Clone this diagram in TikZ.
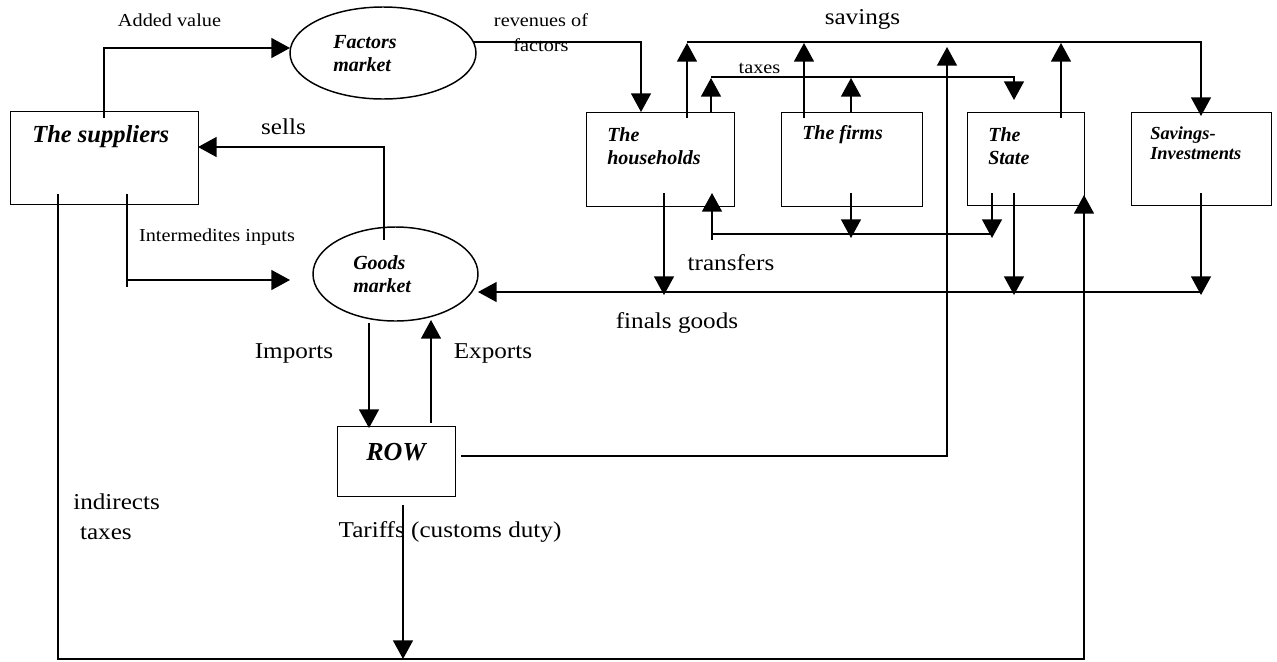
\documentclass[tikz,border=0pt]{standalone}
\usepackage{fontspec}
\setmainfont{Liberation Serif}
\usepackage{graphicx}
\usetikzlibrary{arrows.meta,shapes.geometric}
\newcommand{\hs}[1]{\scalebox{1.11}[1]{#1}}
\begin{document}
\begin{tikzpicture}[x=0.75pt,y=-0.75pt,
  line/.style={line width=1.1pt},
  arr/.style={line width=1.1pt,-{Triangle[length=14pt,width=15pt]}},
  box/.style={draw,line width=1.1pt,inner sep=0pt,anchor=north west},
  ell/.style={draw,ellipse,line width=1.1pt,inner sep=0pt},
  big/.style={font=\fontsize{17}{20}\selectfont,inner sep=0pt},
  small/.style={font=\fontsize{13.7}{16}\selectfont,inner sep=0pt},
  lab/.style={font=\fontsize{15}{17.25}\selectfont\bfseries\itshape,inner sep=0pt,align=left,anchor=west},
]
\useasboundingbox (0,0) rectangle (1277,661);
% boxes
\node[box,minimum width=141pt,minimum height=69.75pt] (sup) at (10,111) {};
\node[box,minimum width=111pt,minimum height=70.5pt] (hh) at (586,112) {};
\node[box,minimum width=105.75pt,minimum height=70.5pt] (firms) at (781,112) {};
\node[box,minimum width=87.75pt,minimum height=69.75pt] (state) at (967,112) {};
\node[box,minimum width=105pt,minimum height=69.75pt] (si) at (1131,112) {};
\node[box,minimum width=88.5pt,minimum height=52.5pt] (row) at (337,426) {};
\node[ell,minimum width=139.5pt,minimum height=69pt] (fm) at (383,53) {};
\node[ell,minimum width=123.75pt,minimum height=70.5pt] (gm) at (395.5,274) {};
% box labels
\node[lab,font=\fontsize{18.4}{21}\selectfont\bfseries\itshape] (suptxt) at (32,137) {The suppliers};
\node[lab] (hhtxt) at (607,146.5) {The\\households};
\node[lab] (fitxt) at (802,135) {The firms};
\node[lab] (sttxt) at (988,146.5) {The\\State};
\node[lab,font=\fontsize{13.8}{15}\selectfont\bfseries\itshape] (sitxt) at (1150,143) {Savings-\\Investments};
\node[lab] (fmtxt) at (333,53.5) {Factors\\market};
\node[lab] (gmtxt) at (353,274) {Goods\\market};
\node[font=\fontsize{19.5}{22}\selectfont\bfseries\itshape,inner sep=0pt] (rowtxt) at (396,452) {ROW};
% flow labels
\node[small] (lav) at (169.5,20) {\hs{Added value}};
\node[small,align=center,font=\fontsize{13.7}{18.75}\selectfont] (lrev) at (541,32.5) {\hs{revenues of}\\\hs{factors}};
\node[big] (lsav) at (862.5,19) {\hs{savings}};
\node[small] (ltax) at (759.5,68) {\hs{taxes}};
\node[big] (lsells) at (283.5,127) {\hs{sells}};
\node[small] (lint) at (217,237) {\hs{Intermedites inputs}};
\node[big] (ltr) at (731,263) {\hs{transfers}};
\node[big] (lfg) at (677,323) {\hs{finals goods}};
\node[big] (limp) at (294,353) {\hs{Imports}};
\node[big] (lexp) at (493,353) {\hs{Exports}};
\node[big,align=left,anchor=west,font=\fontsize{17}{22.5}\selectfont] (lind) at (73,517) {\hs{indirects}\\\hspace{0.3em}\hs{taxes}};
\node[big] (ltar) at (450,532) {\hs{Tariffs (customs duty)}};
% connectors
\draw[arr] (104,118) |- (290,48);
\draw[arr] (473,42) -| (641,112);
\draw[arr] (384,240) |- (198,147);
\draw[line] (127,194) -- (127,287);
\draw[arr] (127,280) -- (290,280);
\draw[arr] (58,194) |- (1084,659) -- (1084,195);
\draw[arr] (403,505) -- (403,659);
\draw[arr] (369,323) -- (369,428);
\draw[arr] (431,423) -- (431,320);
\draw[arr] (461,456) -| (947,47);
\draw[arr] (1201,292) -- (478,292);
\draw[arr] (1201,193) -- (1201,295);
\draw[arr] (664,193) -- (664,295);
\draw[arr] (1014,193) -- (1014,295);
\draw[line] (992,234) -- (712,234);
\draw[arr] (712,240) -- (712,193);
\draw[arr] (851,193) -- (851,238);
\draw[arr] (992,193) -- (992,238);
\draw[arr] (711,77) -| (1014,100);
\draw[arr] (711,112) -- (711,78);
\draw[arr] (851,112) -- (851,78);
\draw[arr] (687,42) -| (1201,116);
\draw[arr] (687,118) -- (687,43);
\draw[arr] (804,118) -- (804,43);
\draw[arr] (1061,118) -- (1061,43);
\end{tikzpicture}
\end{document}
